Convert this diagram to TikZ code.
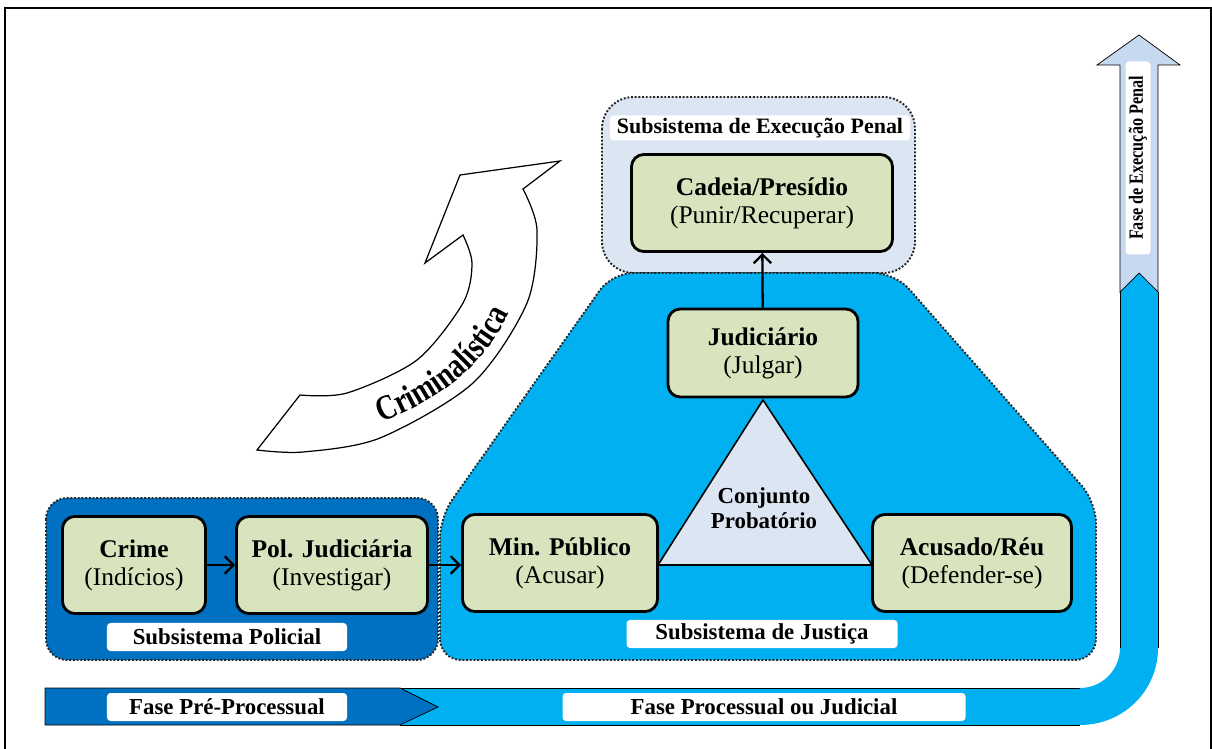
\documentclass[tikz,border=0pt]{standalone}
\usepackage{fontspec}
\setmainfont{Liberation Serif}
\newfontfamily\narrowfont[FakeStretch=0.8]{Liberation Serif}
\usetikzlibrary{arrows.meta,decorations.text}
\definecolor{polblue}{HTML}{0070C0}
\definecolor{jusblue}{HTML}{00B0F0}
\definecolor{execgray}{HTML}{DCE6F2}
\definecolor{boxgreen}{HTML}{D7E4BD}
\definecolor{headblue}{HTML}{C6D9F1}

\begin{document}
\begin{tikzpicture}[x=0.2mm, y=-0.2mm,
    subsys/.style={draw=black!85, densely dotted, line width=1.1pt, rounded corners=12pt},
    box/.style={draw, line width=1.6pt, rounded corners=7pt, fill=boxgreen, align=center,
        font=\fontsize{14.5}{16}\selectfont, minimum height=1.94cm, inner sep=2pt},
    tag/.style={fill=white, rounded corners=2pt, font=\bfseries\fontsize{13}{13}\selectfont,
        minimum height=0.56cm, inner sep=1pt},
    conn/.style={-{Straight Barb[length=5pt,width=10pt]}, line width=1.3pt}]
    \useasboundingbox (0,0) rectangle (1212,749);

    % Draw frame
    \draw[line width=0.8pt] (5,749) -- (5,8) -- (1211,8) -- (1211,749);

    % Draw subsystems
    \draw[subsys, fill=execgray, rounded corners=18pt] (602,97) rectangle (915,273);
    \draw[subsys, fill=polblue] (46,498) rectangle (438,660);
    \draw[subsys, fill=jusblue] (440,660) -- (440,517) -- (612,273) -- (895,273)
        -- (1096,502) -- (1096,660) -- cycle;

    % Phase band
    \fill[jusblue] (400,688) -- (1080,688) .. controls (1102,688) and (1120,670) .. (1120,648)
        -- (1120,292) -- (1139,273) -- (1158,292) -- (1158,648)
        .. controls (1158,691) and (1123,725) .. (1080,725) -- (400,725) -- cycle;
    \draw[thin] (400,688) -- (1080,688) (400,725) -- (1080,725)
        (1120,292) -- (1120,648) (1158,292) -- (1158,648);
    \draw[thin, fill=polblue] (45,688) -- (400,688) -- (438,707) -- (400,725) -- (45,725) -- cycle;
    \draw[thin, fill=headblue] (1120,292) -- (1120,65) -- (1097,65) -- (1139,35) -- (1180,65)
        -- (1158,65) -- (1158,292) -- (1139,273) -- cycle;

    % Labels
    \node[tag, minimum width=4.8cm] (prelbl) at (227,707) {Fase Pré-Processual};
    \node[tag, minimum width=8.06cm] (proclbl) at (764,707) {Fase Processual ou Judicial};
    \node[tag, rotate=90, minimum width=3.86cm, minimum height=0.5cm,
        font=\narrowfont\bfseries\fontsize{11.5}{11.5}\selectfont] (execlbl) at (1138,158) {Fase de Execução Penal};
    \node[tag, minimum width=4.8cm] (pollbl) at (227,637) {Subsistema Policial};
    \node[tag, minimum width=5.42cm] (juslbl) at (762,634) {Subsistema de Justiça};
    \node[tag, minimum width=6cm, minimum height=0.5cm,
        font=\bfseries\fontsize{12.5}{12.5}\selectfont] (exsublbl) at (760,128) {Subsistema de Execução Penal};

    % Triangle
    \draw[line width=0.9pt, fill=execgray] (658,565) -- (872,565) -- (763,400) -- cycle;
    \node[font=\bfseries\fontsize{13}{14.5}\selectfont, align=center] (conj) at (764,508) {Conjunto\\Probatório};

    % Actors
    \node[box, minimum width=2.86cm] (crime) at (134,565) {\textbf{Crime}\\(Indícios)};
    \node[box, minimum width=3.82cm] (pol) at (332,565) {\textbf{Pol. Judiciária}\\(Investigar)};
    \node[box, minimum width=3.9cm] (mp) at (560,563) {\textbf{Min. Público}\\(Acusar)};
    \node[box, minimum width=3.98cm] (reu) at (972,563) {\textbf{Acusado/Réu}\\(Defender-se)};
    \node[box, minimum width=3.8cm, minimum height=1.76cm] (jud) at (763,353) {\textbf{Judiciário}\\(Julgar)};
    \node[box, minimum width=5.22cm] (cad) at (762,203) {\textbf{Cadeia/Presídio}\\(Punir/Recuperar)};

    \draw[conn] (crime) -- (pol);
    \draw[conn] (pol.east) -- (pol.east -| mp.west);
    \draw[conn] (jud) -- (cad);

    % Criminalistica arrow
    \draw[line width=0.7pt, fill=white] (257,450) -- (300,395)
        -- plot[smooth] coordinates {(300,395) (347,393) (417,360) (463,303) (472,263) (463,235)}
        -- (425,263) -- (460,175) -- (560,161) -- (523,189)
        -- plot[smooth] coordinates {(523,189) (537,230) (527,303) (473,383) (380,438) (303,452) (257,450)}
        -- cycle;
    \path[decorate, decoration={text along path, text align=center,
        text={|\narrowfont\bfseries\fontsize{20}{20}\selectfont|Criminalística}}]
        (366,428) .. controls (436,404) and (488,368) .. (516,298);
\end{tikzpicture}
\end{document}
